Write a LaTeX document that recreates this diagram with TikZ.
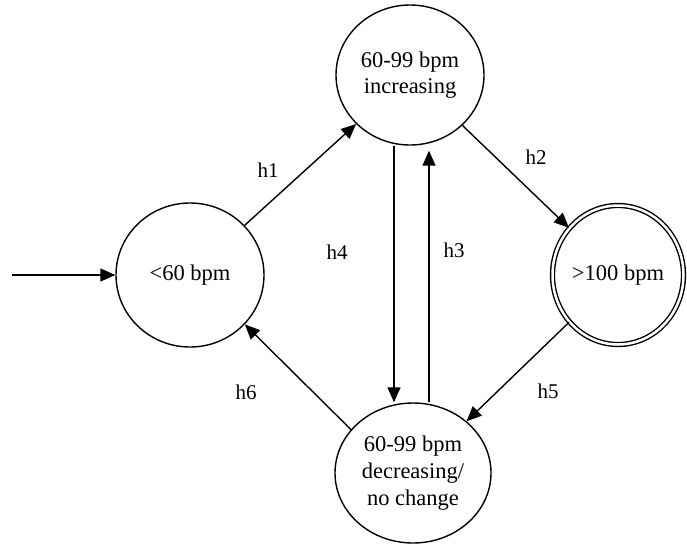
\documentclass[tikz,border=0pt]{standalone}
\usepackage{fontspec}
\setmainfont{Liberation Serif}
\usetikzlibrary{arrows.meta,shapes.geometric}
\begin{document}
\begin{tikzpicture}[x=1pt,y=-1pt,
  state/.style={ellipse,draw,line width=1.4pt,inner sep=0pt,align=center,
    font=\fontsize{22.5}{26.7}\selectfont},
  edge/.style={line width=1.4pt,-{Triangle[length=15pt,width=13pt]}},
  lbl/.style={font=\fontsize{21}{24}\selectfont,inner sep=0pt}]
\useasboundingbox (0,0) rectangle (687,544);

% states
\node[state,minimum width=148pt,minimum height=140pt] (A) at (410,75) {60-99 bpm\\increasing};
\node[state,minimum width=148pt,minimum height=144pt] (L) at (190,275) {<60 bpm};
\node[state,double,double distance=2.5pt,minimum width=131pt,minimum height=139pt] (R) at (618,275) {>100 bpm};
\node[state,minimum width=156pt,minimum height=140pt] (B) at (413,473) {60-99 bpm\\decreasing/\\no change};

% initial arrow
\coordinate (start) at (12,275);
\draw[edge] (start) -- (L);

% transitions
\draw[edge] (L) -- (A);
\draw[edge] (A) -- (R);
\draw[edge] (R) -- (B);
\draw[edge] (B.145) -- (L.318);
\coordinate (xl) at (394,0);
\coordinate (xr) at (429,0);
\draw[edge] (A.south -| xl) -- (B.north -| xl);
\draw[edge,shorten >=5pt] (B.north -| xr) -- (A.south -| xr);

% transition labels
\node[lbl] (h1) at (268,170) {h1};
\node[lbl] (h2) at (536,157) {h2};
\node[lbl] (h3) at (454,250) {h3};
\node[lbl] (h4) at (337,252) {h4};
\node[lbl] (h5) at (548,391) {h5};
\node[lbl] (h6) at (246,392) {h6};
\end{tikzpicture}
\end{document}
